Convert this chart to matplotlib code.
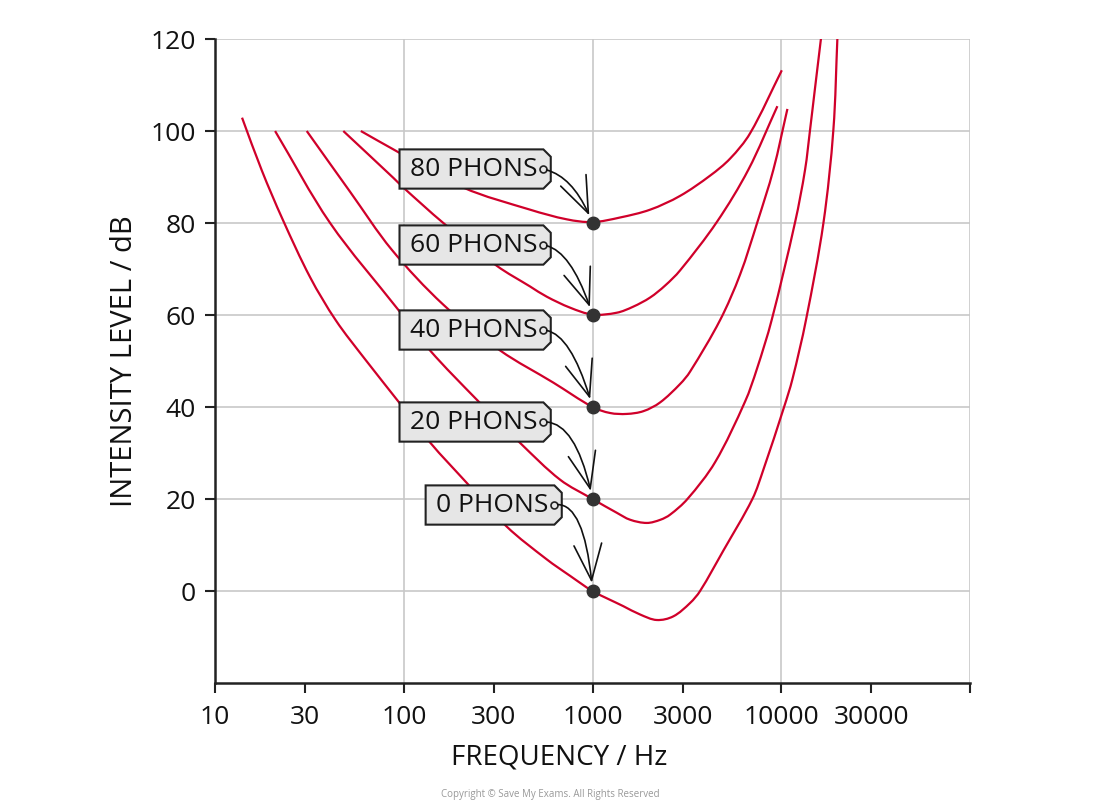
import matplotlib
matplotlib.use('Agg')
import numpy as np
import matplotlib.pyplot as plt
from matplotlib.path import Path
from matplotlib.patches import PathPatch
from matplotlib.transforms import offset_copy

# equal loudness contours (Hz, dB)
freq_0 = [13.9, 17.7, 22.8, 31.9, 43.7, 62.3, 94.4, 137.7, 215.6, 351, 571,
          760, 1000, 1456, 1785, 2188, 2679, 3286, 3711, 4932, 7025, 8035,
          10340, 11440, 13520, 16710, 18870, 19820]
db_0 = [102.9, 91.4, 80.8, 68.2, 58.8, 50.4, 41.0, 32.3, 23.5, 14.0, 6.9,
        3.3, 0, -3.3, -5.1, -6.3, -5.5, -2.6, 0, 8.8, 20, 26.4,
        40, 46, 59, 80, 100.3, 120.3]

freq_20 = [20.8, 40.7, 93.2, 137.7, 243.5, 413, 673, 1000, 1345, 1580, 1940,
           2290, 2574, 3180, 4457, 6427, 7413, 8900, 11830, 13360, 14200,
           15000, 16240]
db_20 = [100.0, 80.0, 61.2, 52.3, 41.6, 32.2, 24.2, 20, 17.0, 15.5, 14.8,
         15.5, 16.6, 20, 28.0, 41.2, 48.2, 59.0, 80.2, 91.6, 100.3, 108.5,
         120.3]

freq_40 = [30.6, 51.9, 86.3, 161.4, 323.6, 619.8, 1000, 1238, 1518, 1859,
           2279, 2908, 3286, 4738, 6046, 7467, 9077, 10770]
db_40 = [100.0, 86.8, 74.2, 62.3, 52.3, 45.3, 40, 38.7, 38.5, 39.1,
         41.0, 45.0, 47.7, 58.9, 68.8, 80.2, 91.6, 104.8]

freq_60 = [47.8, 88.1, 99.5, 162, 310.9, 466.7, 571, 760, 1000, 1344, 1639,
           2017, 2422, 2908, 4550, 6690, 9530]
db_60 = [100.0, 89.8, 87.7, 80.0, 70.7, 66.2, 64.0, 61.6, 60.1, 60.5, 61.8,
         63.8, 66.4, 69.7, 80.2, 91.6, 105.4]

freq_80 = [59.2, 88.1, 206.8, 466.7, 730, 1000, 1399, 2017, 2908, 4194, 5352,
           6830, 10060]
db_80 = [100.0, 96.0, 87.7, 82.9, 80.8, 80.2, 81.2, 82.9, 85.9, 90.3, 94.0,
         99.5, 113.2]

curves = [(freq_0, db_0), (freq_20, db_20), (freq_40, db_40),
          (freq_60, db_60), (freq_80, db_80)]

phons = [0, 20, 40, 60, 80]
phon_labels = ['0 PHONS', '20 PHONS', '40 PHONS', '60 PHONS', '80 PHONS']
# where the tag hole sits relative to its 1000 Hz point (pixels)
tag_offsets = [(-39, 86), (-50, 77), (-50, 77), (-50, 70), (-50, 54)]
# start / end directions of the pointer curves
arrow_angles = [(12, 95), (5, 102), (0, 106), (-5, 108), (-10, 112)]

x_major = [10, 100, 1000, 10000, 100000]
x_major_labels = ['10', '100', '1000', '10000', '']
x_minor = [30, 300, 3000, 30000]
x_minor_labels = ['30', '300', '3000', '30000']
y_ticks = [0, 20, 40, 60, 80, 100, 120]

RED = '#d0002a'
DARK = '#222222'
FONT = ['Open Sans', 'DejaVu Sans']


def tag_box(x0, y0, width, height, mutation_size):
    m = mutation_size
    left = x0 - 0.4 * m
    right = x0 + width + 0.5 * m
    bottom = y0 - 0.27 * m
    top = y0 + height + 0.27 * m
    c = 0.28 * m
    verts = [(left, bottom), (right - c, bottom), (right, bottom + c),
             (right, top - c), (right - c, top), (left, top), (left, bottom)]
    return Path(verts, closed=True)


def smooth_path(freq, db):
    # bezier through the read points, built in log-frequency space
    sx, sy = 188.75, 4.6   # rough pixels per decade / per dB
    pts = np.column_stack([np.log10(freq) * sx, np.asarray(db) * sy])
    n = len(pts)
    tang = np.zeros_like(pts)
    for i in range(n):
        a = pts[max(i - 1, 0)]
        b = pts[min(i + 1, n - 1)]
        t = b - a
        tang[i] = t / np.hypot(*t)
    verts = [pts[0]]
    codes = [Path.MOVETO]
    for i in range(n - 1):
        h = np.hypot(*(pts[i + 1] - pts[i])) / 3
        verts += [pts[i] + tang[i] * h, pts[i + 1] - tang[i + 1] * h,
                  pts[i + 1]]
        codes += [Path.CURVE4] * 3
    verts = np.array(verts)
    verts[:, 0] = 10 ** (verts[:, 0] / sx)
    verts[:, 1] = verts[:, 1] / sy
    return Path(verts, codes)


plt.rcParams['font.family'] = FONT

fig = plt.figure(figsize=(11, 8.11), dpi=100)
ax = fig.add_axes([0.1955, 0.1578, 0.6864, 0.7941])

ax.set_xscale('log')
ax.set_xlim(10, 100000)
ax.set_ylim(-20, 120)

for f, d in curves:
    ax.add_patch(PathPatch(smooth_path(f, d), fill=False, ec=RED, lw=1.6,
                           zorder=3))

ax.set_xticks(x_major)
ax.set_xticklabels(x_major_labels)
ax.set_xticks(x_minor, minor=True)
ax.set_xticklabels(x_minor_labels, minor=True)
ax.set_yticks(y_ticks)

ax.grid(True, which='major', color='#c8c8c8', lw=1.2, zorder=0)
ax.set_axisbelow(True)
for side in ['top', 'right']:
    ax.spines[side].set_visible(False)
for side in ['left', 'bottom']:
    ax.spines[side].set_color(DARK)
    ax.spines[side].set_linewidth(1.8)

ax.tick_params(axis='both', which='both', direction='out', length=7,
               width=1.5, color=DARK, labelsize=19, labelcolor='#111111')
ax.tick_params(axis='x', which='both', pad=9)
ax.tick_params(axis='y', pad=7)

ax.set_xlabel('FREQUENCY / Hz', fontsize=20, color='#111111', va='center')
ax.set_ylabel('INTENSITY LEVEL / dB', fontsize=21, color='#111111',
              va='center')
ax.xaxis.set_label_coords(0.456, -0.115)
ax.yaxis.set_label_coords(-0.1205, 0.5)

for p, lab, (dx, dy), (a0, a1) in zip(phons, phon_labels, tag_offsets,
                                      arrow_angles):
    hole = offset_copy(ax.transData, fig=fig, x=dx, y=dy, units='dots')
    txt = offset_copy(ax.transData, fig=fig, x=dx - 5, y=dy, units='dots')
    ax.plot(1000, p, 'o', color='#333333', ms=9, zorder=8, clip_on=False)
    ax.text(1000, p, lab, transform=txt, ha='right', va='center',
            fontsize=19, color='#111111', zorder=6,
            bbox=dict(boxstyle=tag_box, fc='#e6e6e6', ec=DARK, lw=1.5))
    ax.plot(1000, p, 'o', transform=hole, ms=5, mfc='#e6e6e6', mec=DARK,
            mew=1.2, zorder=7)
    ax.annotate('', xy=(1000, p), xytext=(dx, dy), textcoords='offset pixels',
                arrowprops=dict(arrowstyle='->,head_length=1.3,head_width=0.5',
                                connectionstyle='angle3,angleA=%d,angleB=%d'
                                % (a0, a1),
                                color='#111111', lw=1.2, shrinkA=3, shrinkB=6,
                                mutation_scale=20),
                zorder=7)

fig.text(0.5, 0.02, 'Copyright \u00a9 Save My Exams. All Rights Reserved',
         ha='center', va='center', fontsize=7, color='#999999')

fig.savefig('out.png', dpi=100)
